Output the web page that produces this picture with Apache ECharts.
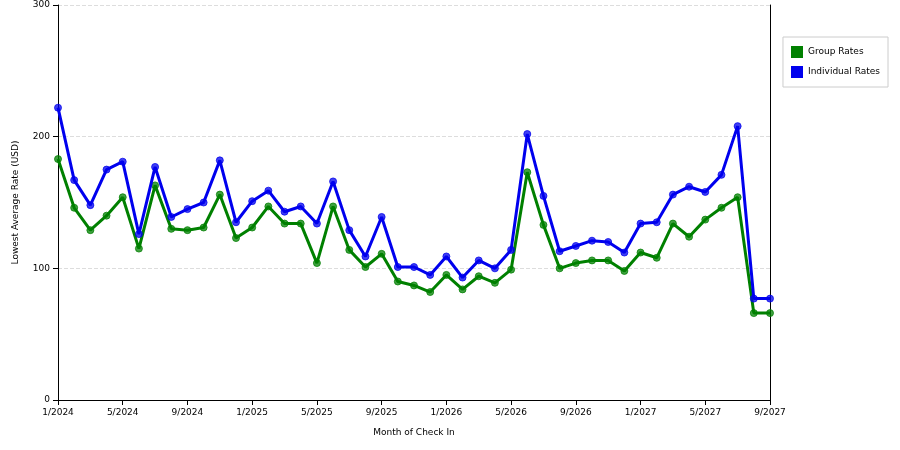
<!DOCTYPE html><html><head><meta charset="utf-8"><script src="https://cdn.jsdelivr.net/npm/echarts@6/dist/echarts.min.js"></script></head><body style="margin:0"><div id="c" style="width:900px;height:450px"></div><script>
var months=[];for(var y=2024;y<=2027;y++)for(var m=1;m<=12;m++){if(y==2027&&m>9)break;months.push(m+'/'+y);}
var groupRates=[183,146,129,140,154,115,163,130,129,131,156,123,131,147,134,134,104,147,114,101,111,90,87,82,95,84,94,89,99,173,133,100,104,106,106,98,112,108,134,124,137,146,154,66,66];
var individualRates=[222,167,148,175,181,126,177,139,145,150,182,135,151,159,143,147,134,166,129,109,139,101,101,95,109,93,106,100,114,202,155,113,117,121,120,112,134,135,156,162,158,171,208,77,77];
var f={fontFamily:'DejaVu Sans',fontSize:9,color:'#000'};
function s(n,d,c){return {name:n,type:'line',data:d,symbol:'circle',symbolSize:7,lineStyle:{width:3,color:c},itemStyle:{color:c,borderColor:c,opacity:0.75},z:n=='Group Rates'?2:3};}
echarts.init(document.getElementById('c')).setOption({animation:false,
grid:{left:58,right:130,top:5,bottom:50},
legend:{orient:'vertical',right:12,top:37,itemWidth:12,itemHeight:12,icon:'rect',padding:[9,8,9,8],borderColor:'#ccc',borderWidth:1,itemGap:8,textStyle:f,itemStyle:{opacity:1},data:['Group Rates','Individual Rates']},
xAxis:{type:'category',data:months,boundaryGap:false,name:'Month of Check In',nameLocation:'middle',nameGap:28,nameTextStyle:f,axisLine:{lineStyle:{color:'#000'}},axisTick:{interval:3,lineStyle:{color:'#000'}},axisLabel:Object.assign({interval:3},f),splitLine:{show:false}},
yAxis:[{type:'value',min:0,max:300,interval:100,name:'Lowest Average Rate (USD)',nameLocation:'middle',nameGap:38,nameTextStyle:f,axisLine:{show:true,lineStyle:{color:'#000'}},axisTick:{show:true,lineStyle:{color:'#000'}},axisLabel:f,splitLine:{lineStyle:{type:'dashed',color:'#ddd'}}},
{type:'value',position:'right',min:0,max:300,interval:100,axisLine:{show:true,lineStyle:{color:'#000'}},axisTick:{show:false},axisLabel:{show:false},splitLine:{show:false}}],
series:[s('Group Rates',groupRates,'#008000'),s('Individual Rates',individualRates,'#0000ee')]});
</script></body></html>
